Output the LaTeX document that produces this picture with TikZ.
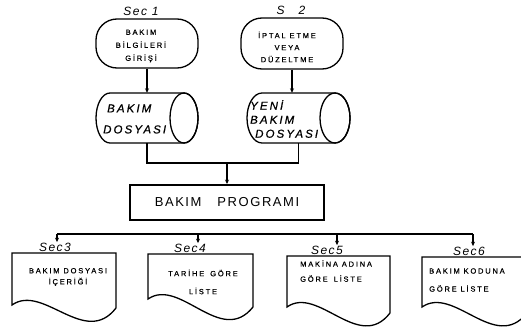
\documentclass[tikz,border=0pt]{standalone}
\usepackage{fontspec}
\setmainfont{Liberation Sans}
\newfontfamily\lett[LetterSpace=24,FakeBold=0.6]{Liberation Sans}
\newfontfamily\letc[LetterSpace=18,FakeBold=0.8]{Liberation Sans}
\newfontfamily\letw[LetterSpace=12]{Liberation Sans}
\usetikzlibrary{arrows.meta}
\begin{document}
\begin{tikzpicture}[x=1pt,y=1pt,
  ln/.style={line width=1.3pt},
  arr/.style={ln,-{Stealth[length=4.5pt,width=4pt]}},
  term/.style={ln,draw,rounded corners=21pt,minimum width=102pt,inner sep=0pt},
  small/.style={font=\lett\fontsize{7.5}{12}\selectfont,inner sep=0pt},
  cyltxt/.style={font=\letc\itshape\fontsize{11.5}{14}\selectfont,inner sep=0pt,anchor=west,align=left},
  seclab/.style={font=\letw\itshape\fontsize{12}{12}\selectfont,inner sep=1pt,anchor=south},
  hole/.style={inner sep=0pt,minimum width=102pt,minimum height=50pt}]
\useasboundingbox (0,0) rectangle (521,-332);
\fill[white] (0,0) rectangle (521,-332);

% top terminals
\node[term,minimum height=49pt] (t1) at (147,-43.5) {};
\node[small,align=center,font=\lett\fontsize{7.5}{13}\selectfont] (t1t) at (141,-46) {BAKIM\\BİLGİLERİ\\GİRİŞİ};
\node[seclab] (s1) at (141,-17) {Sec 1};

\node[term,minimum height=51pt] (t2) at (292,-43.5) {};
\node[small,align=center,font=\lett\fontsize{7.5}{12}\selectfont] (t2t) at (287,-47) {İPTAL ETME\\VEYA\\DÜZELTME};
\node[seclab] (s2) at (291,-16) {S\hspace{14pt}2};

% cylinders
\node[hole] (c1) at (147,-118) {};
\draw[ln] (110,-93) arc[start angle=90,end angle=270,x radius=14pt,y radius=25pt]
  -- (184,-143) arc[start angle=-90,end angle=90,x radius=14pt,y radius=25pt] -- cycle;
\draw[ln] (184,-118) ellipse[x radius=14pt,y radius=25pt];
\node[cyltxt,font=\letc\itshape\fontsize{11.5}{21}\selectfont] (c1t) at (103,-119) {\hspace{4pt}BAKIM\\DOSYASI};

\node[hole,minimum width=103pt] (c2) at (298.5,-118) {};
\draw[ln] (262,-93) arc[start angle=90,end angle=270,x radius=15pt,y radius=25pt]
  -- (335,-143) arc[start angle=-90,end angle=90,x radius=15pt,y radius=25pt] -- cycle;
\draw[ln] (335,-118) ellipse[x radius=15pt,y radius=25pt];
\node[cyltxt] (c2t) at (250,-119) {YENİ\\BAKIM\\\hspace{5pt}DOSYASI};

\draw[arr] (t1.south) -- (t1.south |- c1.north);
\draw[arr] (t2.south) -- (t2.south |- c2.north);

% program box
\node[draw,line width=1.9pt,minimum width=194pt,minimum height=35pt,inner sep=0pt,
  font=\letw\fontsize{13}{13}\selectfont] (prog) at (227,-202.5) {BAKIM\hspace{16pt}PROGRAMI};
\coordinate (m) at (227,-163);
\draw[ln] (c1.south) |- (m) -| (c2.south);
\draw[arr] (m) -- (prog.north);

% output documents
\draw[ln] (12,-253) -- (116,-253) -- (116,-308) .. controls (85,-348) and (43,-283) .. (12,-305) -- cycle;
\draw[ln] (148,-254) -- (253,-254) -- (253,-307) .. controls (221,-347) and (180,-277) .. (148,-299) -- cycle;
\draw[ln] (287,-256) -- (390,-256) -- (390,-313) .. controls (359,-353) and (318,-285) .. (287,-307) -- cycle;
\draw[ln] (422,-257) -- (527,-257) -- (527,-313) .. controls (495,-353) and (454,-285) .. (422,-307) -- cycle;

\node[small,align=center,font=\lett\fontsize{7.5}{11}\selectfont] (d1t) at (68,-277) {BAKIM DOSYASI\\İÇERİĞİ};
\node[small,align=center,font=\lett\fontsize{7.5}{18}\selectfont] (d2t) at (203,-282) {TARİHE\hspace{6pt}GÖRE\\LİSTE};
\node[small,align=left,anchor=west,font=\lett\fontsize{7.5}{15}\selectfont] (d3t) at (300,-271) {MAKİNA ADINA\\GÖRE\hspace{6pt}LİSTE};
\node[small,align=left,anchor=west,font=\lett\fontsize{7.5}{18}\selectfont] (d4t) at (429,-280) {BAKIM KODUNA\\GÖRE LİSTE};

\node[seclab] (s3) at (55,-253) {Sec3};
\node[seclab] (s4) at (190,-254) {Sec4};
\node[seclab] (s5) at (327,-256) {Sec5};
\node[seclab] (s6) at (469,-257) {Sec6};

% distribution bus
\coordinate (b1) at (57,-234);
\coordinate (b2) at (198,-234);
\coordinate (b3) at (337,-234);
\coordinate (b4) at (473,-234);
\draw[ln] (b1) -- (b4);
\draw[arr] (b1) -- (b1 |- s3.north);
\draw[arr] (b2) -- (b2 |- s4.north);
\draw[arr] (b3) -- (b3 |- s5.north);
\draw[arr] (b4) -- (b4 |- s6.north);
\end{tikzpicture}
\end{document}
